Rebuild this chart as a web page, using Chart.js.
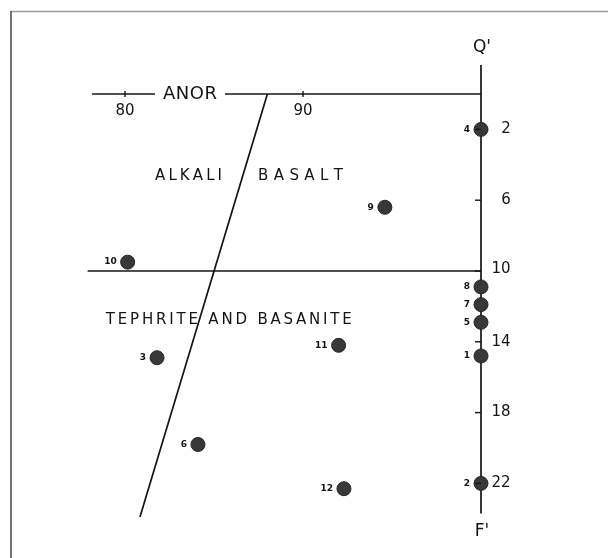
<!DOCTYPE html>
<html>
<head>
<meta charset="utf-8">
<script src="https://cdn.jsdelivr.net/npm/chart.js@4/dist/chart.umd.min.js"></script>
<style>
html,body{margin:0;padding:0;background:#fff;}
#wrap{width:608px;height:558px;position:relative;}
</style>
</head>
<body>
<div id="wrap"><canvas id="c" width="608" height="558"></canvas></div>
<script>
// ---- data (ANOR vs Q') ----
const sampleIds = ['1','2','3','4','5','6','7','8','9','10','11','12'];
const anorValues = [100, 100, 81.8, 100, 100, 84.1, 100, 100, 94.6, 80.15, 92.0, 92.3];
const qPrimeValues = [14.8, 22.0, 14.9, 2.0, 12.9, 19.8, 11.9, 10.9, 6.4, 9.5, 14.2, 22.3];

const anorTicks = [80, 90];
const qPrimeTicks = [2, 6, 10, 14, 18, 22];

// boundary / axis lines (data coordinates)
const anorAxisLine = [{x: 78.15, y: 0}, {x: 100, y: 0}];
const q10Line = [{x: 77.9, y: 10}, {x: 100, y: 10}];
const dividerLine = [{x: 88.0, y: 0}, {x: 80.84, y: 23.9}];
const qAxisLine = [{x: 100, y: -1.64}, {x: 100, y: 23.7}];

// field labels (anchored in data coordinates)
const fieldLabels = [
  {text: 'ALKALI', x: 83.57, y: 4.63, width: 67},
  {text: 'BASALT', x: 89.86, y: 4.63, width: 85},
  {text: 'TEPHRITE AND BASANITE', x: 85.83, y: 12.77, width: 246}
];

const ink = '#141414';
const points = anorValues.map((v, i) => ({x: v, y: qPrimeValues[i], id: sampleIds[i]}));

function lineDs(data) {
  return {type: 'line', data: data, borderColor: ink, borderWidth: 1.7,
          pointRadius: 0, fill: false, tension: 0, order: 2};
}

function spacedText(ctx, text, cx, cy, width) {
  const chars = text.split('');
  const ws = chars.map(c => ctx.measureText(c).width);
  const total = ws.reduce((a, b) => a + b, 0);
  const gap = chars.length > 1 ? (width - total) / (chars.length - 1) : 0;
  let x = cx - width / 2;
  ctx.textAlign = 'left';
  chars.forEach((c, i) => { ctx.fillText(c, x, cy); x += ws[i] + gap; });
}

const framePlugin = {
  id: 'frame',
  beforeDraw(chart) {
    const ctx = chart.ctx;
    ctx.save();
    ctx.fillStyle = '#fff';
    ctx.fillRect(0, 0, chart.width, chart.height);
    ctx.strokeStyle = '#9a9a9a';
    ctx.lineWidth = 1.5;
    ctx.beginPath(); ctx.moveTo(11, 11.5); ctx.lineTo(608, 11.5); ctx.stroke();
    ctx.strokeStyle = '#444';
    ctx.beginPath(); ctx.moveTo(11, 11); ctx.lineTo(11, 558); ctx.stroke();
    ctx.restore();
  }
};

const textPlugin = {
  id: 'texts',
  afterDatasetsDraw(chart) {
    const ctx = chart.ctx;
    const xs = chart.scales.x, ys = chart.scales.y;
    ctx.save();
    ctx.fillStyle = ink;
    ctx.strokeStyle = ink;
    ctx.lineWidth = 1.4;
    ctx.textBaseline = 'middle';

    // ANOR axis ticks and labels
    const y0 = ys.getPixelForValue(0);
    ctx.font = '15px "DejaVu Sans"';
    ctx.textAlign = 'center';
    anorTicks.forEach(t => {
      const px = xs.getPixelForValue(t);
      ctx.beginPath(); ctx.moveTo(px, y0 - 3); ctx.lineTo(px, y0 + 3); ctx.stroke();
      ctx.fillText(String(t), px, y0 + 17);
    });
    // ANOR title with white gap
    const ax = xs.getPixelForValue(83.65);
    ctx.fillStyle = '#fff';
    ctx.fillRect(ax - 35, y0 - 4, 70, 8);
    ctx.fillStyle = ink;
    ctx.font = '18px "DejaVu Sans"';
    spacedText(ctx, 'ANOR', ax, y0, 54);

    // Q' axis ticks and labels
    const xr = xs.getPixelForValue(100);
    ctx.font = '15px "DejaVu Sans"';
    ctx.textAlign = 'center';
    qPrimeTicks.forEach(t => {
      const py = ys.getPixelForValue(t);
      ctx.beginPath(); ctx.moveTo(xr - 6, py); ctx.lineTo(xr, py); ctx.stroke();
      ctx.fillText(String(t), xr + (t < 10 ? 25 : 20), t === 10 ? py - 2 : py);
    });
    ctx.font = '17px "DejaVu Sans"';
    ctx.fillText("Q'", xr + 1, ys.getPixelForValue(-2.6));
    ctx.fillText("F'", xr + 1, ys.getPixelForValue(24.73));

    // field labels
    ctx.font = '15px "DejaVu Sans"';
    fieldLabels.forEach(f => {
      spacedText(ctx, f.text, xs.getPixelForValue(f.x), ys.getPixelForValue(f.y), f.width);
    });

    // sample labels
    ctx.font = 'bold 9px "DejaVu Sans"';
    ctx.textAlign = 'right';
    points.forEach(p => {
      ctx.fillText(p.id, xs.getPixelForValue(p.x) - 11, ys.getPixelForValue(p.y));
    });
    ctx.restore();
  }
};

new Chart(document.getElementById('c'), {
  type: 'scatter',
  data: {
    datasets: [
      lineDs(anorAxisLine),
      lineDs(q10Line),
      lineDs(dividerLine),
      lineDs(qAxisLine),
      {type: 'scatter', data: points, pointRadius: 7, pointHoverRadius: 7,
       backgroundColor: '#383838', borderColor: '#262626', borderWidth: 1, order: 1}
    ]
  },
  options: {
    responsive: false,
    animation: false,
    events: [],
    layout: {autoPadding: false, padding: {left: 18.2, right: 20.2, top: 23.2, bottom: 3.8}},
    plugins: {legend: {display: false}, tooltip: {enabled: false}, title: {display: false}},
    scales: {
      x: {type: 'linear', min: 74, max: 106, display: false},
      y: {type: 'linear', min: -4, max: 26, reverse: true, display: false}
    }
  },
  plugins: [framePlugin, textPlugin]
});
</script>
</body>
</html>
